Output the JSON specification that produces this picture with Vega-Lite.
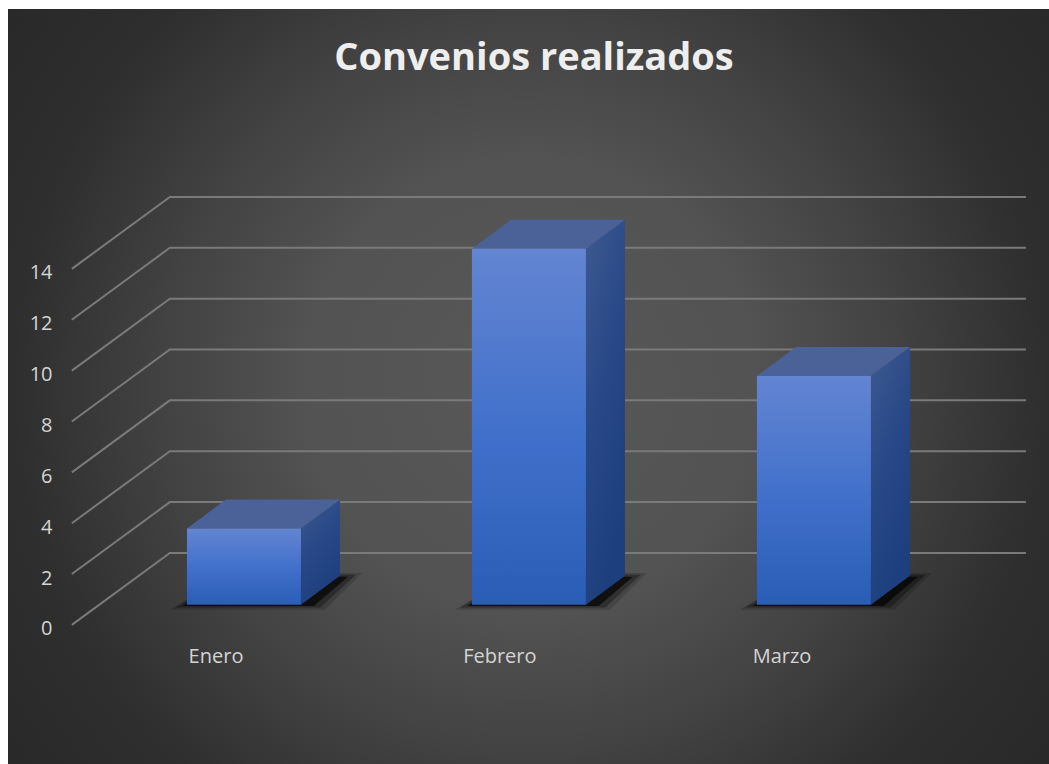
{"$schema":"https://vega.github.io/schema/vega-lite/v6.json","width":1041,"height":755,"autosize":{"type":"none"},"padding":{"left":8,"top":9,"right":0,"bottom":0},"background":"#ffffff","config":{"view":{"stroke":null},"font":"Open Sans"},"title":{"text":"Convenios realizados","anchor":"middle","frame":"group","orient":"top","offset":-69,"dx":5.5,"font":"Open Sans","fontSize":38,"fontWeight":"bold","color":"#eeeeee"},"datasets":{"panel":[{"x":0.039,"x2":3.968,"y":-12.58,"y2":31.46}],"grid":[{"value":0,"x":0.396,"y":0},{"value":0,"x":0.74,"y":2.83},{"value":0,"x":3.744,"y":2.83},{"value":2,"x":0.396,"y":2},{"value":2,"x":0.74,"y":4.83},{"value":2,"x":3.744,"y":4.83},{"value":4,"x":0.396,"y":4},{"value":4,"x":0.74,"y":6.83},{"value":4,"x":3.744,"y":6.83},{"value":6,"x":0.396,"y":6},{"value":6,"x":0.74,"y":8.83},{"value":6,"x":3.744,"y":8.83},{"value":8,"x":0.396,"y":8},{"value":8,"x":0.74,"y":10.83},{"value":8,"x":3.744,"y":10.83},{"value":10,"x":0.396,"y":10},{"value":10,"x":0.74,"y":12.83},{"value":10,"x":3.744,"y":12.83},{"value":12,"x":0.396,"y":12},{"value":12,"x":0.74,"y":14.83},{"value":12,"x":3.744,"y":14.83},{"value":14,"x":0.396,"y":14},{"value":14,"x":0.74,"y":16.83},{"value":14,"x":3.744,"y":16.83}],"shadowOuter":[{"month":"Enero","x":0.74,"y":0.6,"y2":0.6},{"month":"Enero","x":0.951,"y":2.04,"y2":0.6},{"month":"Enero","x":1.284,"y":2.04,"y2":0.6},{"month":"Enero","x":1.414,"y":2.04,"y2":2.04},{"month":"Febrero","x":1.74,"y":0.6,"y2":0.6},{"month":"Febrero","x":1.951,"y":2.04,"y2":0.6},{"month":"Febrero","x":2.284,"y":2.04,"y2":0.6},{"month":"Febrero","x":2.414,"y":2.04,"y2":2.04},{"month":"Marzo","x":2.74,"y":0.6,"y2":0.6},{"month":"Marzo","x":2.951,"y":2.04,"y2":0.6},{"month":"Marzo","x":3.284,"y":2.04,"y2":0.6},{"month":"Marzo","x":3.414,"y":2.04,"y2":2.04}],"shadowMid":[{"month":"Enero","x":0.76,"y":0.68,"y2":0.68},{"month":"Enero","x":0.945,"y":1.97,"y2":0.68},{"month":"Enero","x":1.268,"y":1.97,"y2":0.68},{"month":"Enero","x":1.392,"y":1.97,"y2":1.97},{"month":"Febrero","x":1.76,"y":0.68,"y2":0.68},{"month":"Febrero","x":1.945,"y":1.97,"y2":0.68},{"month":"Febrero","x":2.268,"y":1.97,"y2":0.68},{"month":"Febrero","x":2.392,"y":1.97,"y2":1.97},{"month":"Marzo","x":2.76,"y":0.68,"y2":0.68},{"month":"Marzo","x":2.945,"y":1.97,"y2":0.68},{"month":"Marzo","x":3.268,"y":1.97,"y2":0.68},{"month":"Marzo","x":3.392,"y":1.97,"y2":1.97}],"shadowInner":[{"month":"Enero","x":0.785,"y":0.74,"y2":0.74},{"month":"Enero","x":0.937,"y":1.89,"y2":0.74},{"month":"Enero","x":1.245,"y":1.89,"y2":0.74},{"month":"Enero","x":1.365,"y":1.89,"y2":1.89},{"month":"Febrero","x":1.785,"y":0.74,"y2":0.74},{"month":"Febrero","x":1.937,"y":1.89,"y2":0.74},{"month":"Febrero","x":2.245,"y":1.89,"y2":0.74},{"month":"Febrero","x":2.365,"y":1.89,"y2":1.89},{"month":"Marzo","x":2.785,"y":0.74,"y2":0.74},{"month":"Marzo","x":2.937,"y":1.89,"y2":0.74},{"month":"Marzo","x":3.245,"y":1.89,"y2":0.74},{"month":"Marzo","x":3.365,"y":1.89,"y2":1.89}],"side":[{"month":"Enero","x":1.2,"y":3.79,"y2":0.79},{"month":"Enero","x":1.337,"y":4.93,"y2":1.93},{"month":"Febrero","x":2.2,"y":14.79,"y2":0.79},{"month":"Febrero","x":2.337,"y":15.93,"y2":1.93},{"month":"Marzo","x":3.2,"y":9.79,"y2":0.79},{"month":"Marzo","x":3.337,"y":10.93,"y2":1.93}],"top":[{"month":"Enero","x":0.8,"y":3.79,"y2":3.79},{"month":"Enero","x":0.937,"y":4.93,"y2":3.79},{"month":"Enero","x":1.2,"y":4.93,"y2":3.79},{"month":"Enero","x":1.337,"y":4.93,"y2":4.93},{"month":"Febrero","x":1.8,"y":14.79,"y2":14.79},{"month":"Febrero","x":1.937,"y":15.93,"y2":14.79},{"month":"Febrero","x":2.2,"y":15.93,"y2":14.79},{"month":"Febrero","x":2.337,"y":15.93,"y2":15.93},{"month":"Marzo","x":2.8,"y":9.79,"y2":9.79},{"month":"Marzo","x":2.937,"y":10.93,"y2":9.79},{"month":"Marzo","x":3.2,"y":10.93,"y2":9.79},{"month":"Marzo","x":3.337,"y":10.93,"y2":10.93}],"front":[{"month":"Enero","value":3,"x":0.8,"x2":1.2,"y":3.79,"y2":0.79},{"month":"Febrero","value":14,"x":1.8,"x2":2.2,"y":14.79,"y2":0.79},{"month":"Marzo","value":9,"x":2.8,"x2":3.2,"y":9.79,"y2":0.79}],"labels":[{"month":"Enero","x":0.902,"y":-1.26},{"month":"Febrero","x":1.898,"y":-1.26},{"month":"Marzo","x":2.888,"y":-1.26}]},"encoding":{"x":{"field":"x","type":"quantitative","axis":null,"scale":{"domain":[0.172,3.825],"nice":false,"zero":false}},"y":{"field":"y","type":"quantitative","stack":null,"scale":{"domain":[-5.47,24.22],"nice":false,"zero":false},"axis":{"title":null,"zindex":1,"values":[0,2,4,6,8,10,12,14],"domain":false,"ticks":false,"grid":false,"offset":-44,"labelPadding":0,"labelColor":"#d4d4d4","labelFont":"Open Sans","labelFontSize":20,"labelOffset":4}}},"layer":[{"data":{"name":"panel"},"mark":{"type":"rect","clip":true,"color":{"gradient":"radial","x1":0.5,"y1":0.5,"r1":0,"x2":0.5,"y2":0.5,"r2":0.6,"stops":[{"offset":0,"color":"#585858"},{"offset":0.33,"color":"#535353"},{"offset":0.55,"color":"#424242"},{"offset":0.77,"color":"#2e2e2e"},{"offset":1,"color":"#282828"}]}},"encoding":{"x2":{"field":"x2"},"y2":{"field":"y2"}}},{"data":{"name":"grid"},"mark":{"type":"line","color":"#7a7a7a","strokeWidth":2,"interpolate":"linear"},"encoding":{"detail":{"field":"value"},"order":{"field":"x","type":"quantitative"}}},{"data":{"name":"shadowOuter"},"mark":{"type":"area","orient":"vertical","color":"#000000","opacity":0.16},"encoding":{"y2":{"field":"y2"},"detail":{"field":"month"}}},{"data":{"name":"shadowMid"},"mark":{"type":"area","orient":"vertical","color":"#000000","opacity":0.3},"encoding":{"y2":{"field":"y2"},"detail":{"field":"month"}}},{"data":{"name":"shadowInner"},"mark":{"type":"area","orient":"vertical","color":"#000000","opacity":0.65},"encoding":{"y2":{"field":"y2"},"detail":{"field":"month"}}},{"data":{"name":"side"},"mark":{"type":"area","orient":"vertical","color":{"gradient":"linear","x1":0,"y1":0,"x2":0.4,"y2":1,"stops":[{"offset":0,"color":"#3e5a8f"},{"offset":0.5,"color":"#284887"},{"offset":1,"color":"#1e3f7d"}]}},"encoding":{"y2":{"field":"y2"},"detail":{"field":"month"}}},{"data":{"name":"top"},"mark":{"type":"area","orient":"vertical","color":"#4a6298"},"encoding":{"y2":{"field":"y2"},"detail":{"field":"month"}}},{"data":{"name":"front"},"mark":{"type":"rect","color":{"gradient":"linear","x1":0,"y1":0,"x2":0,"y2":1,"stops":[{"offset":0,"color":"#6385d2"},{"offset":0.55,"color":"#3f6fca"},{"offset":1,"color":"#2a5db5"}]}},"encoding":{"x2":{"field":"x2"},"y2":{"field":"y2"}}},{"data":{"name":"labels"},"mark":{"type":"text","color":"#d4d4d4","fontSize":20,"font":"Open Sans","align":"center","baseline":"middle"},"encoding":{"text":{"field":"month"}}}]}
